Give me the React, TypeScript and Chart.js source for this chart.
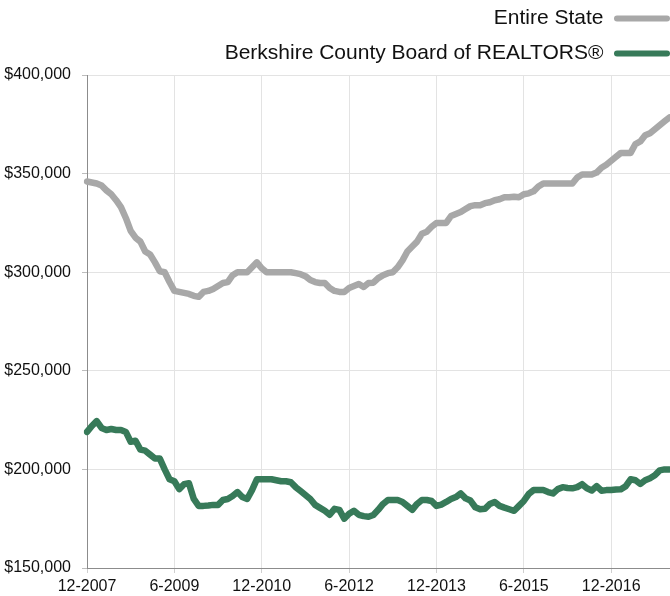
import React, { useEffect, useRef } from 'react';
import { Chart, registerables } from 'chart.js';

Chart.register(...registerables);

// ---- data ----
const START_MONTH = 12;
const START_YEAR = 2007;
const CATEGORY_COUNT = 124; // monthly categories 12-2007 .. 3-2018 (data through 12-2017)

const CATEGORIES: string[] = [];
for (let i = 0; i < CATEGORY_COUNT; i++) {
  const m = ((START_MONTH - 1 + i) % 12) + 1;
  const y = START_YEAR + Math.floor((START_MONTH - 1 + i) / 12);
  CATEGORIES.push(`${m}-${y}`);
}

const TICK_LABELS = ['12-2007', '6-2009', '12-2010', '6-2012', '12-2013', '6-2015', '12-2016'];
const Y_MIN = 150000;
const Y_MAX = 400000;
const Y_STEP = 50000;

const SERIES_NAMES = ['Entire State', 'Berkshire County Board of REALTORS®'];

const ENTIRE_STATE = [
  346000, 345500, 345000, 344000, 341500, 339500, 336500, 333000, 327500, 321000,
  317500, 315500, 310500, 309000, 305000, 300500, 300000, 295000, 290500, 290000,
  289500, 289000, 288000, 287500, 290000, 290500, 291500, 293000, 294500, 295000,
  298500, 300000, 300000, 300000, 302500, 305000, 302000, 300000, 300000, 300000,
  300000, 300000, 300000, 299500, 299000, 298000, 296000, 295000, 294500, 294500,
  292000, 290500, 290000, 290000, 292000, 293000, 294000, 292500, 294500, 294700,
  297000, 298500, 299500, 300000, 302500, 306000, 310500, 313000, 315500, 319500,
  320500, 323000, 325000, 325000, 325000, 328500, 329500, 330500, 332000, 333500,
  334000, 334000, 335000, 335500, 336500, 337000, 338000, 338000, 338300, 338000,
  339500, 340000, 341000, 343500, 345000, 345000, 345000, 345000, 345000, 345000,
  345000, 348000, 349500, 349500, 349500, 350500, 353000, 354500, 356500, 358500,
  360500, 360500, 360500, 365000, 366300, 369500, 370500, 372500, 374500, 376500,
  378500,
];

const BERKSHIRE = [
  219000, 222000, 224500, 221000, 220000, 220500, 220000, 220000, 219000, 214000,
  214500, 210000, 209500, 207500, 205500, 205500, 200000, 195000, 194000, 190000,
  192500, 193000, 185000, 181500, 181500, 181700, 182000, 182000, 184500, 185000,
  186500, 188500, 186000, 185000, 189500, 195000, 195000, 195000, 195000, 194500,
  194000, 194000, 193500, 191000, 189000, 187000, 185000, 182000, 180500, 179000,
  177000, 180000, 179500, 175000, 177500, 179000, 177000, 176300, 176000, 176900,
  179500, 182500, 184500, 184500, 184500, 183500, 181500, 179500, 182500, 184500,
  184500, 184000, 181500, 182200, 183500, 185000, 186000, 187800, 185300, 184200,
  180800, 179800, 180000, 182500, 183500, 181500, 180600, 179800, 179000, 181500,
  184000, 187500, 189500, 189500, 189500, 188500, 187800, 190000, 191000, 190600,
  190400, 191000, 192500, 190400, 189300, 191500, 189200, 189500, 189600, 189800,
  189900, 191500, 195000, 194500, 192600, 194500, 195500, 197000, 199500, 200000,
  200000,
];

// ---- styles ----
const GRAY = '#a8a8a8';
const GREEN = '#377a59';
const GRID_COLOR = '#e3e3e3';
const AXIS_COLOR = '#8c8c8c';
const TEXT_COLOR = '#111111';
const FONT_FAMILY = '"Liberation Sans", Arial, Helvetica, sans-serif';

const CANVAS_W = 684;
const CANVAS_H = 602;
const CANVAS_TOP = -6;
const LEGEND_EXTRA = 1;

const legendGap = {
  id: 'legendGap',
  beforeLayout(chart: any) {
    const lg = chart.legend;
    if (lg && !lg.__gapPatched) {
      const fit = lg.fit.bind(lg);
      lg.fit = function () {
        fit();
        this.height += LEGEND_EXTRA;
      };
      lg.__gapPatched = true;
    }
  },
};

export default function App() {
  const canvasRef = useRef<HTMLCanvasElement | null>(null);

  useEffect(() => {
    if (!canvasRef.current) return;
    const isTick = (i: number) => TICK_LABELS.includes(CATEGORIES[i]);
    const chart = new Chart(canvasRef.current, {
      type: 'line',
      data: {
        labels: CATEGORIES,
        datasets: [
          {
            label: SERIES_NAMES[0],
            data: ENTIRE_STATE,
            borderColor: GRAY,
            backgroundColor: GRAY,
            borderWidth: 6.5,
            pointRadius: 0,
            pointHoverRadius: 0,
            tension: 0,
            borderCapStyle: 'round',
            borderJoinStyle: 'round',
            fill: false,
          },
          {
            label: SERIES_NAMES[1],
            data: BERKSHIRE,
            borderColor: GREEN,
            backgroundColor: GREEN,
            borderWidth: 6.5,
            pointRadius: 0,
            pointHoverRadius: 0,
            tension: 0,
            borderCapStyle: 'round',
            borderJoinStyle: 'round',
            fill: false,
          },
        ],
      },
      options: {
        responsive: false,
        animation: false,
        events: [],
        layout: { padding: 0 },
        plugins: {
          tooltip: { enabled: false },
          legend: {
            display: true,
            position: 'top',
            align: 'start',
            fullSize: false,
            rtl: true,
            labels: {
              color: TEXT_COLOR,
              font: { family: FONT_FAMILY, size: 21 },
              boxWidth: 56,
              boxHeight: 6,
              padding: 14,
              useBorderRadius: true,
              borderRadius: 3,
              generateLabels: (c: any) =>
                Chart.defaults.plugins.legend.labels
                  .generateLabels(c)
                  .map((l: any) => ({ ...l, lineWidth: 0, borderRadius: 3 })),
            },
          },
        },
        scales: {
          x: {
            type: 'category',
            offset: false,
            afterFit: (s: any) => {
              s.height = 28;
            },
            grid: {
              color: (ctx: any) => (isTick(ctx.index) ? GRID_COLOR : 'rgba(0,0,0,0)'),
              tickColor: (ctx: any) => (isTick(ctx.index) ? '#cfcfcf' : 'rgba(0,0,0,0)'),
              tickLength: 5,
              lineWidth: 1,
            },
            border: { color: AXIS_COLOR, width: 1 },
            ticks: {
              autoSkip: false,
              maxRotation: 0,
              minRotation: 0,
              padding: 0,
              color: TEXT_COLOR,
              font: { family: FONT_FAMILY, size: 16, lineHeight: 1.7 },
              callback: (_v: any, i: number) => (isTick(i) ? CATEGORIES[i] : ''),
            },
          },
          y: {
            type: 'linear',
            min: Y_MIN,
            max: Y_MAX,
            afterFit: (s: any) => {
              s.width = 87;
            },
            grid: {
              color: GRID_COLOR,
              tickColor: '#bdbdbd',
              tickLength: 5,
              lineWidth: 1,
            },
            border: { color: AXIS_COLOR, width: 1 },
            ticks: {
              stepSize: Y_STEP,
              padding: 11,
              color: TEXT_COLOR,
              font: { family: FONT_FAMILY, size: 16 },
              callback: (v: any) => '$' + Number(v).toLocaleString('en-US'),
            },
          },
        },
      } as any,
      plugins: [legendGap],
    });
    return () => chart.destroy();
  }, []);

  return (
    <div
      style={{
        position: 'fixed',
        left: 0,
        top: 0,
        width: 670,
        height: 596,
        overflow: 'hidden',
        background: '#ffffff',
      }}
    >
      <canvas
        ref={canvasRef}
        width={CANVAS_W}
        height={CANVAS_H}
        style={{ position: 'absolute', left: 0, top: CANVAS_TOP, width: CANVAS_W, height: CANVAS_H }}
      />
    </div>
  );
}
